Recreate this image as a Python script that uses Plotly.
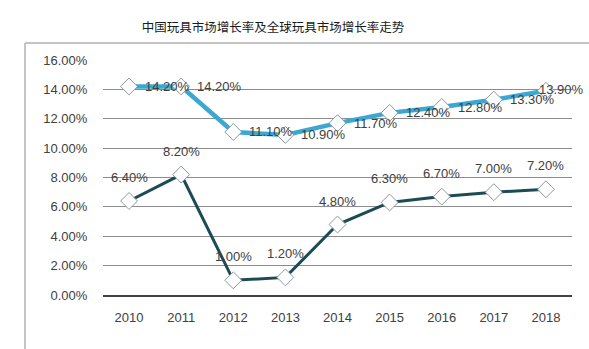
import plotly.graph_objects as go

years = ["2010", "2011", "2012", "2013", "2014", "2015", "2016", "2017", "2018"]
china_growth = [6.40, 8.20, 1.00, 1.20, 4.80, 6.30, 6.70, 7.00, 7.20]
global_growth = [14.20, 14.20, 11.10, 10.90, 11.70, 12.40, 12.80, 13.30, 13.90]
y_ticks = [0, 2, 4, 6, 8, 10, 12, 14, 16]
title_text = "中国玩具市场增长率及全球玩具市场增长率走势"

W, H = 589, 349
L, R, T, B = 103, 17, 60, 54

fig = go.Figure()

marker_style = dict(symbol="diamond", size=13, color="white",
                    line=dict(color="#8a9aa0", width=1))
FONT = "Liberation Sans, Arial, sans-serif"
label_font = dict(family=FONT, size=13, color="#404040")

fig.add_trace(go.Scatter(
    x=years, y=global_growth, mode="lines+markers",
    line=dict(color="#3aa8d2", width=4.5),
    marker=marker_style,
    name="全球玩具市场增长率", cliponaxis=False,
))
fig.add_trace(go.Scatter(
    x=years, y=china_growth, mode="lines+markers",
    line=dict(color="#1c4a55", width=3),
    marker=marker_style,
    name="中国玩具市场增长率", cliponaxis=False,
))

annotations = []
n = len(years)
for i, v in enumerate(global_growth):
    last = (i == n - 1)
    annotations.append(dict(x=i, y=v, xref="x", yref="y", text=f"{v:.2f}%",
                            showarrow=False, xanchor="left", yanchor="middle",
                            xshift=-9 if last else 14, yshift=1 if last else 0,
                            font=label_font))
for i, v in enumerate(china_growth):
    annotations.append(dict(x=i, y=v, xref="x", yref="y", text=f"{v:.2f}%",
                            showarrow=False, xanchor="center", yanchor="bottom",
                            yshift=14, font=label_font))

pw = W - L - R
ph = H - T - B
x_left = (25 - L) / pw
y_top = (H - B - 43) / ph

fig.update_layout(
    width=W, height=H,
    margin=dict(l=L, r=R, t=T, b=B, pad=0),
    paper_bgcolor="white", plot_bgcolor="white",
    showlegend=False,
    annotations=annotations,
    title=dict(text=title_text, x=273 / W, xref="container",
               xanchor="center", y=1 - 28 / H, yanchor="middle",
               font=dict(family="Noto Sans CJK SC", size=12.5, color="#1a1a1a")),
    xaxis=dict(type="category", range=[-0.5, n - 0.5],
               showgrid=False, showline=True, linecolor="#404040",
               linewidth=1.5, ticks="outside", ticklen=10, tickcolor="rgba(0,0,0,0)",
               tickfont=dict(family=FONT, size=13, color="#404040"),
               fixedrange=True, automargin=False),
    yaxis=dict(range=[0, 16], tickvals=y_ticks, ticktext=[f"{v:.2f}%" for v in y_ticks],
               showgrid=True, gridcolor="#8c8c8c", gridwidth=1, zeroline=False,
               showline=False, ticks="outside", ticklen=12, tickcolor="rgba(0,0,0,0)",
               tickfont=dict(family=FONT, size=13, color="#404040"), automargin=False),
    shapes=[
        dict(type="line", xref="paper", yref="paper", x0=x_left, x1=x_left,
             y0=y_top, y1=-0.5, line=dict(color="#b0b0b0", width=1.5)),
        dict(type="line", xref="paper", yref="paper", x0=x_left, x1=1.2,
             y0=y_top, y1=y_top, line=dict(color="#b0b0b0", width=1.5)),
    ],
)

fig.write_html("out.html")
